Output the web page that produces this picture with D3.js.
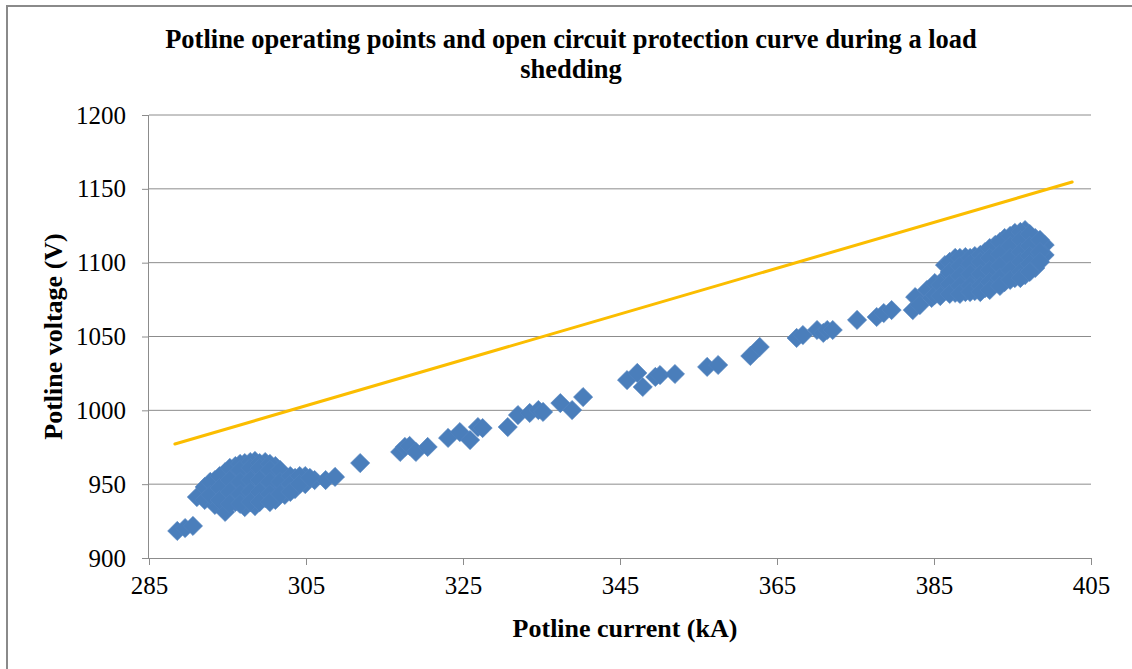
<!DOCTYPE html>
<html>
<head>
<meta charset="utf-8">
<script src="https://cdn.jsdelivr.net/npm/d3@7"></script>
<style>
  body { margin: 0; background: #fff; }
  #chartbox { width: 1132px; height: 669px; }
  text { font-family: "Liberation Serif", "Times New Roman", serif; fill: #000; }
</style>
</head>
<body>
<div id="chartbox"></div>
<script>
// operating points (kA, V)
var currentKA = [
  288.6, 289.6, 290.6,
  291.1, 292.1, 292.1, 293.4, 293.4, 293.4, 294.7, 294.7, 294.7, 294.7,
  296.0, 296.0, 296.0, 296.0, 297.2, 297.2, 297.2, 297.2, 297.2,
  298.5, 298.5, 298.5, 298.5, 298.5, 299.8, 299.8, 299.8, 299.8,
  301.1, 301.1, 301.1, 301.1, 302.3, 302.3, 302.3, 303.6, 303.6,
  304.9, 304.9, 306.1, 307.5, 308.7,
  292.8, 292.8, 294.0, 294.0, 294.0, 295.3, 295.3, 295.3, 295.3,
  296.6, 296.6, 296.6, 296.6, 296.6, 297.9, 297.9, 297.9, 297.9, 297.9,
  299.1, 299.1, 299.1, 299.1, 299.1, 300.4, 300.4, 300.4, 300.4, 300.4,
  301.7, 301.7, 301.7, 303.0, 303.0, 303.0, 304.2, 304.2, 305.5,
  311.9, 317.0, 317.6, 318.2, 319.0, 320.5, 323.1, 324.6, 325.9, 326.9, 327.5,
  330.7, 332.0, 333.5, 334.6, 335.2, 337.4, 338.9, 340.3,
  345.9, 347.2, 347.9, 349.5, 350.1, 352.0, 356.1, 357.5, 361.6, 362.8,
  367.5, 368.3, 370.1, 370.9, 371.4, 372.1, 375.2, 377.7, 378.6, 379.6,
  382.3, 382.6, 384.1, 383.2, 384.7,
  385.1, 385.1, 386.4, 386.4, 386.4, 387.7, 387.7, 387.7, 387.7,
  389.0, 389.0, 389.0, 389.0, 390.2, 390.2, 390.2, 390.2,
  391.5, 391.5, 391.5, 391.5, 392.8, 392.8, 392.8, 392.8,
  394.0, 394.0, 394.0, 394.0, 394.0, 395.3, 395.3, 395.3, 395.3, 395.3,
  396.6, 396.6, 396.6, 396.6, 396.6, 397.9, 397.9, 397.9, 397.9, 399.1, 399.1,
  385.8, 385.8, 387.0, 387.0, 387.0, 387.0, 388.3, 388.3, 388.3, 388.3, 388.3,
  389.6, 389.6, 389.6, 389.6, 389.6, 390.9, 390.9, 390.9, 390.9, 390.9,
  392.1, 392.1, 392.1, 392.1, 392.1, 393.4, 393.4, 393.4, 393.4, 393.4,
  394.7, 394.7, 394.7, 394.7, 394.7, 396.0, 396.0, 396.0, 396.0, 396.0, 396.0,
  397.2, 397.2, 397.2, 397.2, 397.2, 398.5, 398.5, 398.5
];
var voltageV = [
  918.3, 920.3, 921.7,
  941.3, 948.1, 939.3, 952.8, 944.7, 935.9, 958.2, 949.4, 941.3, 931.2,
  962.3, 954.2, 946.1, 937.9, 964.3, 956.2, 948.1, 939.9, 934.5,
  965.7, 957.6, 949.4, 941.3, 935.2, 965.0, 956.9, 948.8, 940.6,
  962.3, 954.2, 946.1, 939.3, 955.5, 948.1, 942.7, 954.2, 946.7,
  955.5, 950.1, 952.8, 952.8, 954.9,
  951.5, 942.7, 955.5, 947.4, 939.3, 961.0, 952.8, 944.7, 936.6,
  963.7, 959.6, 951.5, 943.3, 936.6, 965.0, 961.0, 952.8, 944.7, 937.9,
  964.3, 961.0, 952.8, 944.7, 937.9, 963.7, 959.6, 951.5, 943.3, 937.9,
  959.6, 951.5, 943.3, 955.5, 950.1, 944.7, 955.5, 950.1, 954.2,
  964.3, 971.8, 975.2, 975.9, 971.8, 975.2, 981.3, 985.3, 979.9, 988.7, 988.0,
  988.7, 996.8, 998.2, 1000.2, 998.9, 1004.9, 1000.2, 1009.0,
  1020.5, 1025.3, 1015.8, 1022.6, 1023.9, 1024.6, 1029.4, 1030.7, 1036.8, 1042.9,
  1049.0, 1051.0, 1054.4, 1052.4, 1054.4, 1054.4, 1061.2, 1063.2, 1065.9, 1067.9,
  1067.9, 1076.7, 1081.5, 1071.3, 1076.1,
  1086.2, 1078.1, 1098.4, 1089.6, 1081.5, 1103.2, 1095.0, 1086.9, 1079.5,
  1103.8, 1096.4, 1088.3, 1080.1, 1104.5, 1096.4, 1088.3, 1080.8,
  1107.2, 1099.1, 1091.0, 1082.8, 1112.0, 1103.2, 1095.0, 1086.2,
  1116.7, 1108.6, 1100.5, 1092.3, 1086.9, 1120.1, 1112.0, 1103.8, 1096.4, 1089.6,
  1122.1, 1112.6, 1104.5, 1097.7, 1091.6, 1116.7, 1108.6, 1101.8, 1096.4, 1112.0, 1105.2,
  1084.9, 1077.4, 1100.5, 1093.7, 1085.6, 1078.8, 1103.2, 1097.7, 1091.0, 1084.2, 1078.8,
  1103.2, 1099.1, 1092.3, 1084.2, 1080.1, 1105.2, 1100.5, 1092.3, 1084.2, 1080.1,
  1109.9, 1103.2, 1095.0, 1086.9, 1081.5, 1114.0, 1105.9, 1097.7, 1089.6, 1084.2,
  1118.1, 1111.3, 1103.2, 1095.0, 1088.3, 1120.8, 1115.4, 1107.2, 1100.5, 1093.7, 1089.6,
  1119.4, 1111.3, 1104.5, 1099.1, 1093.7, 1115.4, 1107.2, 1100.5
];

// open circuit protection curve
var curveKA = [288.3, 402.6];
var curveV = [977.2, 1154.6];

var xTicks = [285, 305, 325, 345, 365, 385, 405];
var yTicks = [900, 950, 1000, 1050, 1100, 1150, 1200];

var points = currentKA.map((d, i) => ({ x: d, y: voltageV[i] }));
var curve = curveKA.map((d, i) => ({ x: d, y: curveV[i] }));

var W = 1132, H = 669;
var margin = { top: 115, right: 41, bottom: 111, left: 149 },
    width = W - margin.left - margin.right,
    height = H - margin.top - margin.bottom;

var root = d3.select('#chartbox').append('svg')
    .attr('width', W)
    .attr('height', H);

// outer chart frame
root.append('rect')
    .attr('x', 7).attr('y', 6)
    .attr('width', 1140).attr('height', 680)
    .attr('fill', 'none')
    .attr('stroke', '#8a8a8a')
    .attr('stroke-width', 2);

var title = root.append('text')
    .attr('text-anchor', 'middle')
    .style('font-size', '26.5px')
    .style('font-weight', 'bold');
title.append('tspan').attr('x', 571).attr('y', 48)
    .text('Potline operating points and open circuit protection curve during a load');
title.append('tspan').attr('x', 571).attr('y', 78).text('shedding');

var svg = root.append('g')
    .attr('transform', 'translate(' + [margin.left, margin.top] + ')');

var x = d3.scaleLinear().range([0, width]).domain([285, 405]);
var y = d3.scaleLinear().range([height, 0]).domain([900, 1200]);

// gridlines
svg.append('g')
    .selectAll('line')
    .data(yTicks.slice(1))
    .enter().append('line')
    .attr('x1', 0).attr('x2', width)
    .attr('y1', d => y(d)).attr('y2', d => y(d))
    .attr('stroke', '#8c8c8c')
    .attr('stroke-width', 1);

var xAxis = svg.append('g')
    .attr('transform', 'translate(0,' + height + ')')
    .call(d3.axisBottom(x).tickValues(xTicks).tickSize(7).tickPadding(11).tickFormat(d3.format('d')));
var yAxis = svg.append('g')
    .call(d3.axisLeft(y).tickValues(yTicks).tickSize(7).tickPadding(16).tickFormat(d3.format('d')));

[xAxis, yAxis].forEach(function (a) {
  a.select('.domain').attr('stroke', '#8c8c8c');
  a.selectAll('.tick line').attr('stroke', '#8c8c8c');
  a.selectAll('.tick text')
    .style('font-family', '"Liberation Serif", "Times New Roman", serif')
    .style('font-size', '25px')
    .attr('fill', '#000');
});
xAxis.select('.domain').attr('d', 'M0,0.5H' + width);
yAxis.select('.domain').attr('d', 'M-0.5,0V' + height);

// operating points
svg.append('g')
    .selectAll('path')
    .data(points)
    .enter().append('path')
    .attr('d', d3.symbol(d3.symbolSquare, 185))
    .attr('transform', d => 'translate(' + x(d.x) + ',' + y(d.y) + ') rotate(45)')
    .attr('fill', '#4a7ebb')
    .attr('stroke', '#5384c0')
    .attr('stroke-width', 0.6);

// protection curve
svg.append('path')
    .datum(curve)
    .attr('d', d3.line().x(d => x(d.x)).y(d => y(d.y)))
    .attr('fill', 'none')
    .attr('stroke', '#fbbd00')
    .attr('stroke-width', 3)
    .attr('stroke-linecap', 'round');

// axis titles
root.append('text')
    .attr('x', margin.left + width / 2 + 5)
    .attr('y', 637)
    .attr('text-anchor', 'middle')
    .style('font-size', '26px')
    .style('font-weight', 'bold')
    .text('Potline current (kA)');

root.append('text')
    .attr('transform', 'translate(62,' + (margin.top + height / 2) + ') rotate(-90)')
    .attr('text-anchor', 'middle')
    .style('font-size', '26px')
    .style('font-weight', 'bold')
    .text('Potline voltage (V)');
</script>
</body>
</html>
